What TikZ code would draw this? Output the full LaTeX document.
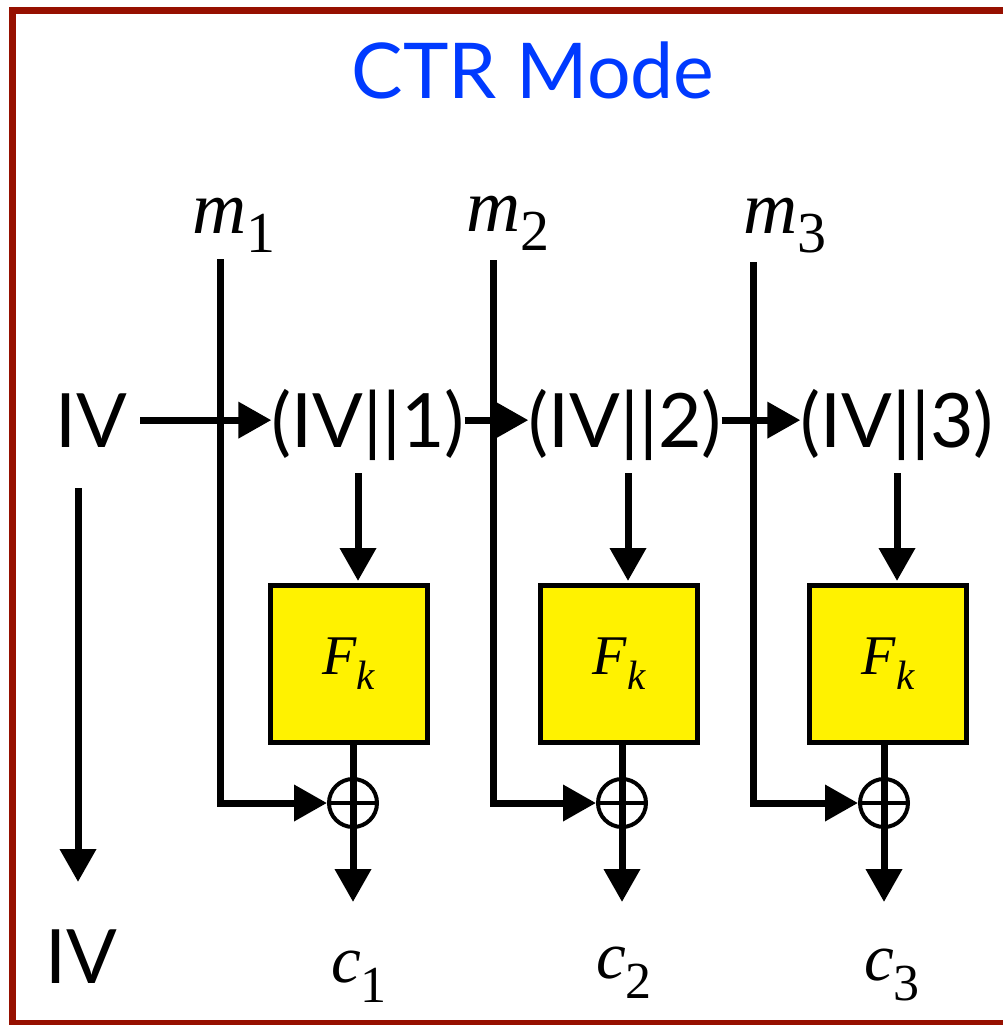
\documentclass[tikz,border=0pt]{standalone}
\usepackage{fontspec}
\usetikzlibrary{arrows.meta}
\newfontfamily\gill{Lato}
\newfontfamily\tms{Liberation Serif}
\definecolor{framered}{RGB}{150,16,0}
\definecolor{titleblue}{RGB}{0,58,255}
\newcommand\symlab[5]{{\tms\fontsize{#1}{#1}\selectfont\itshape #2}\raisebox{-#5pt}{\tms\fontsize{#4}{#4}\selectfont #3}}
\begin{document}
\begin{tikzpicture}[x=1pt,y=-1pt,
  wire/.style={line width=7pt},
  arr/.style={line width=7pt,-{Triangle[length=33pt,width=35pt]}},
  fbox/.style={draw,line width=5pt,fill=yellow,minimum width=157pt,minimum height=157pt,inner sep=0pt},
  xorc/.style={circle,draw,line width=4pt,minimum size=48pt,inner sep=0pt},
  lbl/.style={inner sep=0pt,font=\gill\fontsize{75}{80}\selectfont},
  sym/.style={inner sep=0pt,anchor=base west}]
\useasboundingbox (0,0) rectangle (1003,1025);
\begin{scope}
\clip (0,0) rectangle (1003,1025);
\draw[framered,line width=7pt] (12.5,11) rectangle (1015,1023.5);
\end{scope}
% title
\node[inner sep=0pt,anchor=base,text=titleblue,font=\gill\fontsize{77}{80}\selectfont] (title) at (533,98) {CTR Mode};
% message labels
\node[sym] (m1) at (192,233) {\symlab{75}{m}{1}{58}{19}};
\node[sym] (m2) at (466,231) {\symlab{75}{m}{2}{58}{19}};
\node[sym] (m3) at (743,233) {\symlab{75}{m}{3}{58}{19}};
% IV and counters
\node[lbl,anchor=base] (iv) at (91,447) {IV};
\node[lbl,anchor=base] (ctr1) at (368,447) {(IV||1)};
\node[lbl,anchor=base] (ctr2) at (625,447) {(IV||2)};
\node[lbl,anchor=base] (ctr3) at (897,447) {(IV||3)};
\node[lbl,anchor=base] (ivb) at (81,983) {IV};
% boxes
\node[fbox] (box1) at (348.5,664) {\symlab{56}{F}{\itshape k}{41}{15}};
\node[fbox] (box2) at (619,664) {\symlab{56}{F}{\itshape k}{41}{15}};
\node[fbox] (box3) at (888,664) {\symlab{56}{F}{\itshape k}{41}{15}};
% xor
\node[xorc] (x1) at (353,803) {};
\node[xorc] (x2) at (622,803) {};
\node[xorc] (x3) at (884,803) {};
% ciphertexts
\node[sym] (c1) at (331,982) {\symlab{67}{c}{1}{52}{20}};
\node[sym] (c2) at (596,978) {\symlab{67}{c}{2}{52}{20}};
\node[sym] (c3) at (864,980) {\symlab{67}{c}{3}{52}{20}};
% coordinates
\coordinate (v1) at (220,259);
\coordinate (v2) at (493,260);
\coordinate (v3) at (753,262);
\coordinate (d1) at (78,488);
\coordinate (d2) at (78,882);
% IV chain
\draw[arr] ([xshift=13pt]iv.east) -- (ctr1.west |- iv.east);
\draw[arr] (ctr1.east |- iv.east) -- (ctr2.west |- iv.east);
\draw[arr] (ctr2.east |- iv.east) -- (ctr3.west |- iv.east);
\draw[arr] (d1) -- (d2);
% counter to F
\foreach \i/\s in {1/9.5,2/9,3/9}{
  \draw[arr] ([xshift=\s pt,yshift=110pt]box\i.north) -- ([xshift=\s pt,yshift=2pt]box\i.north);
  \draw[wire] (box\i.south -| x\i) -- (x\i.south);
  \draw[line width=3.5pt] (x\i.west) -- (x\i.east);
  \draw[arr] (x\i.south) -- ++(0,73);
  \draw[arr] (v\i) |- (x\i.west);
}
\end{tikzpicture}
\end{document}
